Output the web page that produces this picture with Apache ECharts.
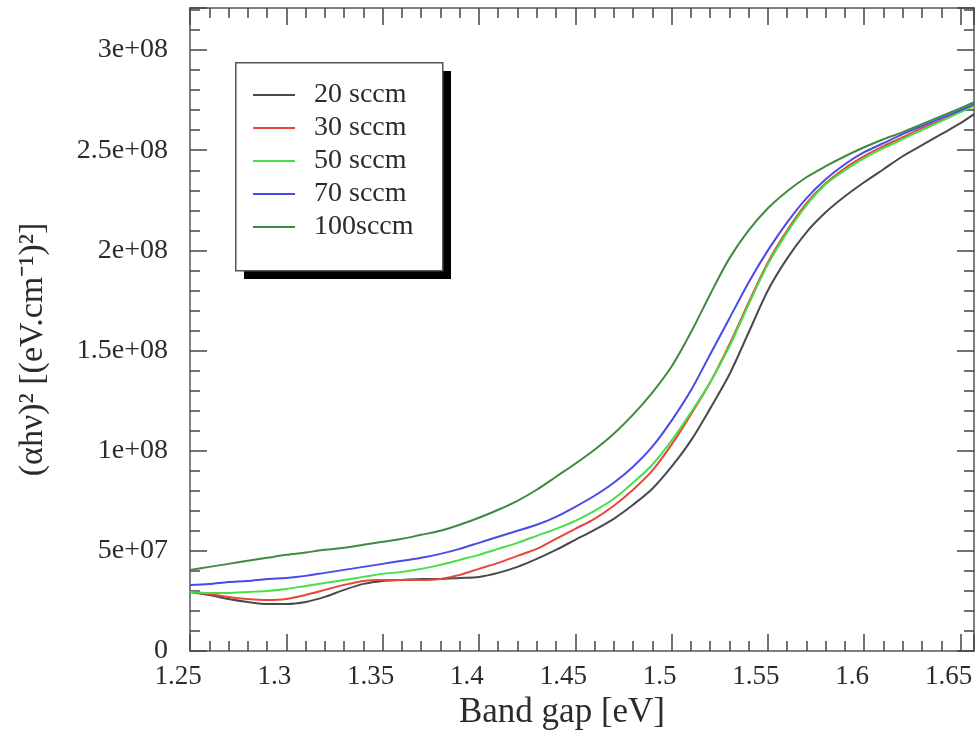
<!DOCTYPE html>
<html>
<head>
<meta charset="utf-8">
<script src="https://cdn.jsdelivr.net/npm/echarts@6/dist/echarts.min.js"></script>
<style>
html,body{margin:0;padding:0;background:#fff;}
#chart{width:976px;height:747px;}
</style>
</head>
<body>
<div id="chart"></div>
<script>
// Photon energy (eV)
var energy = [1.25,1.26,1.27,1.28,1.29,1.30,1.31,1.32,1.33,1.34,1.35,1.36,1.37,1.38,1.39,1.40,1.41,1.42,1.43,1.44,1.45,1.46,1.47,1.48,1.49,1.50,1.51,1.52,1.53,1.54,1.55,1.56,1.57,1.58,1.59,1.60,1.61,1.62,1.63,1.64,1.65,1.657];
// (alpha h nu)^2 in units of 1e7 (eV.cm^-1)^2
var UNIT = 1e7;
var s20 = [2.95,2.8,2.6,2.45,2.35,2.35,2.45,2.7,3.05,3.35,3.5,3.55,3.6,3.6,3.65,3.7,3.9,4.2,4.6,5.05,5.55,6.05,6.6,7.3,8.1,9.2,10.5,12.1,13.8,15.9,18.0,19.6,20.9,21.9,22.7,23.4,24.05,24.7,25.25,25.8,26.35,26.8];
var s30 = [2.95,2.85,2.7,2.6,2.55,2.6,2.8,3.05,3.3,3.5,3.55,3.55,3.55,3.6,3.8,4.1,4.4,4.75,5.1,5.6,6.1,6.6,7.25,8.05,9.0,10.3,11.8,13.4,15.3,17.4,19.4,21.0,22.35,23.35,24.1,24.7,25.2,25.65,26.1,26.5,26.95,27.25];
var s50 = [2.95,2.9,2.9,2.95,3.0,3.1,3.25,3.4,3.55,3.7,3.85,3.95,4.1,4.3,4.55,4.8,5.1,5.4,5.75,6.1,6.5,7.0,7.6,8.4,9.3,10.5,11.9,13.4,15.2,17.3,19.3,20.9,22.25,23.3,24.0,24.6,25.1,25.55,26.0,26.45,26.9,27.2];
var s70 = [3.3,3.35,3.45,3.5,3.6,3.65,3.75,3.9,4.05,4.2,4.35,4.5,4.65,4.85,5.1,5.4,5.7,6.0,6.3,6.7,7.2,7.75,8.4,9.2,10.2,11.5,13.0,14.8,16.6,18.4,20.0,21.4,22.6,23.55,24.3,24.9,25.35,25.8,26.2,26.6,27.0,27.3];
var s100 = [4.05,4.2,4.35,4.5,4.65,4.8,4.92,5.05,5.15,5.3,5.45,5.6,5.8,6.0,6.3,6.65,7.05,7.5,8.05,8.7,9.35,10.05,10.85,11.8,12.9,14.2,15.9,17.8,19.6,21.0,22.1,22.95,23.65,24.2,24.7,25.15,25.55,25.9,26.3,26.7,27.1,27.4];
var seriesNames = ['20 sccm','30 sccm','50 sccm','70 sccm','100sccm'];
var seriesValues = [s20, s30, s50, s70, s100];
var colors = ['#4a4a4a','#e8453c','#45e045','#4a4ae6','#3f8a3f'];
var xTicks = [1.25,1.3,1.35,1.4,1.45,1.5,1.55,1.6,1.65];

var FONT = "'Liberation Serif','Times New Roman',serif";
var TXT = '#2b2b2b';
var LINE = '#555';

function yFmt(v){
  if (v === 0) return '0';
  var s = v.toExponential();
  return s.replace(/e\+(\d)$/, 'e+0$1');
}
function xFmt(v){
  var r = Math.round(v*100)/100;
  return (xTicks.indexOf(r) >= 0 && Math.abs(v - r) < 1e-6) ? String(r) : '';
}

var series = seriesNames.map(function(n, i){
  return {
    name: n, type: 'line', showSymbol: false, symbol: 'none', smooth: 0.3,
    xAxisIndex: 0, yAxisIndex: 0, z: 3,
    lineStyle: {color: colors[i], width: 2},
    itemStyle: {color: colors[i]},
    data: energy.map(function(e, k){ return [e, seriesValues[i][k] * UNIT]; })
  };
});

var tickCommon = {show: true, inside: true, length: 17, lineStyle: {color: '#444', width: 1.5}};
var minorCommon = {show: true, splitNumber: 5, length: 10, lineStyle: {color: '#444', width: 1.5}};
var lineCommon = {show: true, onZero: false, lineStyle: {color: LINE, width: 1.5}};

var option = {
  animation: false,
  backgroundColor: '#fff',
  grid: {left: 190, right: 2, top: 8, bottom: 96, containLabel: false},
  graphic: [
    {type: 'rect', z: 10, left: 244, top: 71, shape: {width: 207, height: 208}, style: {fill: '#000'}},
    {type: 'rect', z: 11, left: 235, top: 62, shape: {width: 207, height: 208}, style: {fill: '#fff', stroke: '#555', lineWidth: 1.5}}
  ],
  legend: {
    orient: 'vertical', left: 253, top: 81, z: 20,
    data: seriesNames,
    icon: 'rect', itemWidth: 42, itemHeight: 2, itemGap: 5,
    padding: 0,
    textStyle: {fontFamily: FONT, fontSize: 28, color: TXT, lineHeight: 28, padding: [0, 0, 0, 14]}
  },
  xAxis: [{
    type: 'value', position: 'bottom', min: 1.25, max: 1.657, interval: 0.05,
    axisLine: lineCommon, axisTick: tickCommon, minorTick: minorCommon,
    splitLine: {show: false},
    axisLabel: {
      fontFamily: FONT, fontSize: 27, color: TXT, margin: 12, showMaxLabel: false,
      padding: [0, 24, 0, 0], formatter: xFmt
    },
    name: 'Band gap [eV]', nameLocation: 'middle', nameGap: 40,
    nameTextStyle: {fontFamily: FONT, fontSize: 35, color: TXT, padding: [0, 40, 0, 0]}
  }, {
    type: 'value', position: 'top', min: 1.25, max: 1.657, interval: 0.05,
    axisLine: lineCommon, axisTick: tickCommon, minorTick: minorCommon,
    splitLine: {show: false}, axisLabel: {show: false}
  }],
  yAxis: [{
    type: 'value', position: 'left', min: 0, max: 3.21e8, interval: 5e7,
    axisLine: lineCommon, axisTick: tickCommon, minorTick: minorCommon,
    splitLine: {show: false},
    axisLabel: {fontFamily: FONT, fontSize: 28, color: TXT, margin: 22, showMaxLabel: false, formatter: yFmt},
    name: '(αhν)² [(eV.cm⁻¹)²]', nameLocation: 'middle', nameGap: 140,
    nameTextStyle: {fontFamily: FONT, fontSize: 34, color: TXT, padding: [0, 40, 0, 0]}
  }, {
    type: 'value', position: 'right', min: 0, max: 3.21e8, interval: 5e7,
    axisLine: lineCommon, axisTick: tickCommon, minorTick: minorCommon,
    splitLine: {show: false}, axisLabel: {show: false}
  }],
  series: series
};

var chart = echarts.init(document.getElementById('chart'), null, {renderer: 'canvas'});
chart.setOption(option);
</script>
</body>
</html>
